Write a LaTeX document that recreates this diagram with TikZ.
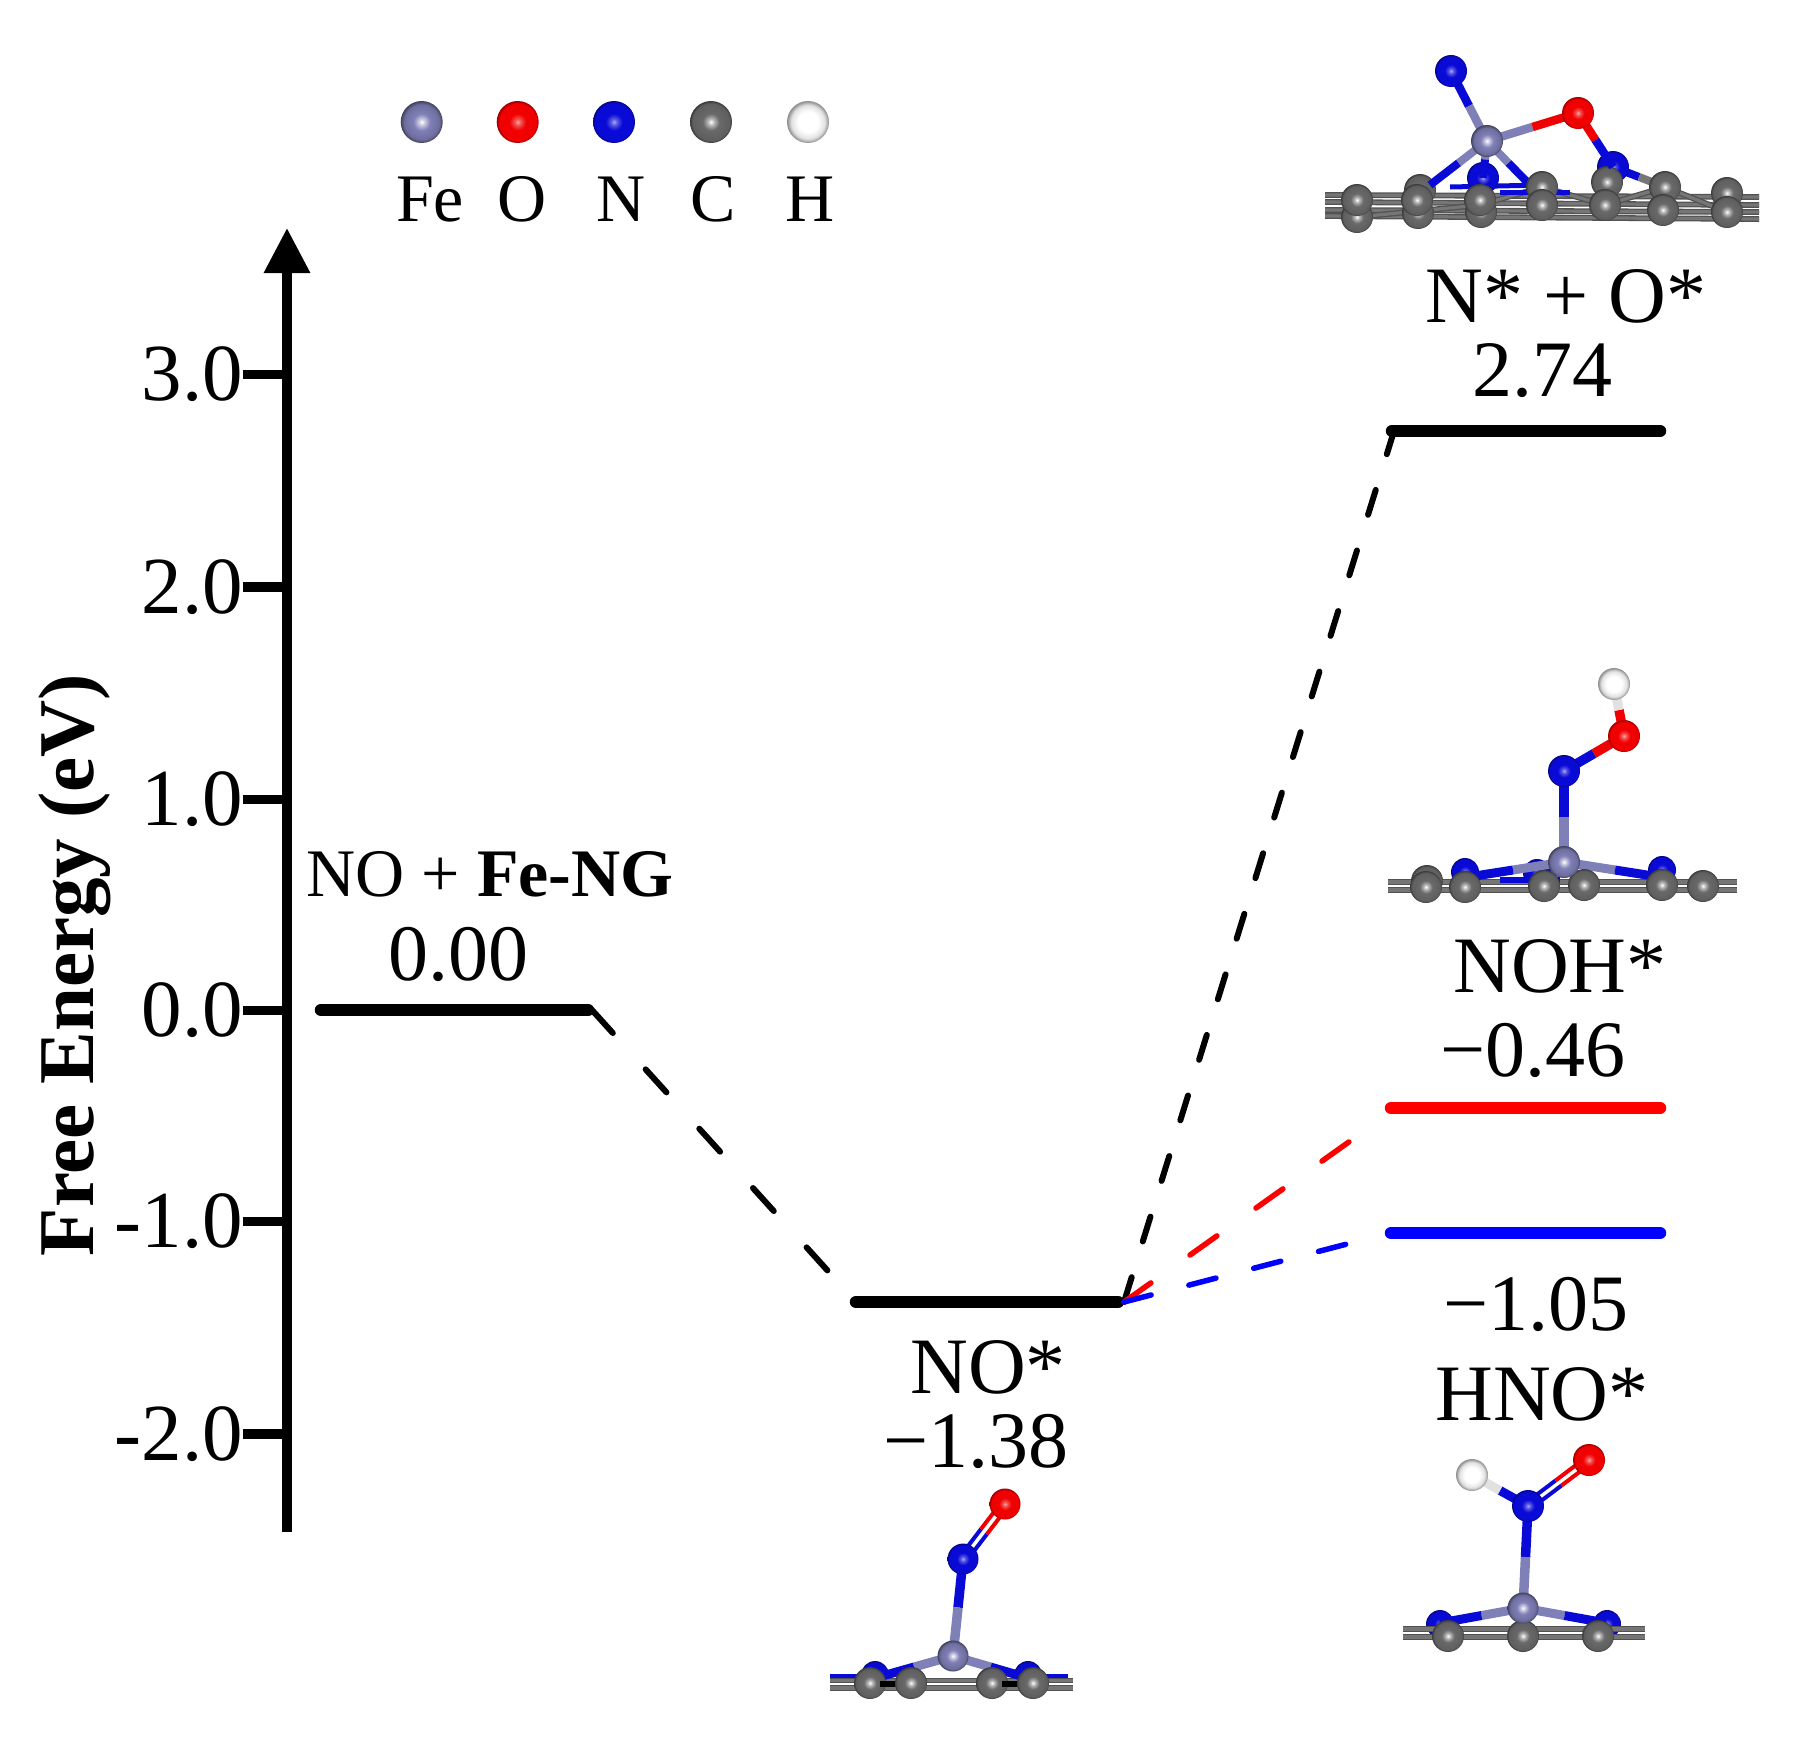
\documentclass[tikz,border=0pt]{standalone}
\usepackage{fontspec}
\setmainfont{Liberation Serif}
\usetikzlibrary{calc,arrows.meta}
\definecolor{feC}{RGB}{128,128,184}
\definecolor{oC}{RGB}{240,0,0}
\definecolor{nC}{RGB}{10,10,215}
\definecolor{cC}{RGB}{105,105,105}
\definecolor{hC}{RGB}{225,225,225}
\definecolor{bgrey}{RGB}{118,118,118}
\pgfdeclareradialshading{sfe}{\pgfpointorigin}{color(0bp)=(white);color(4bp)=(feC!45!white);color(10bp)=(feC);color(21bp)=(feC!85!black);color(25bp)=(feC!50!black);color(50bp)=(feC!50!black)}
\pgfdeclareradialshading{so}{\pgfpointorigin}{color(0bp)=(oC!35!white);color(4bp)=(oC!70!white);color(10bp)=(oC);color(22bp)=(oC);color(25bp)=(oC!65!black);color(50bp)=(oC!65!black)}
\pgfdeclareradialshading{sn}{\pgfpointorigin}{color(0bp)=(nC!35!white);color(4bp)=(nC!70!white);color(10bp)=(nC);color(22bp)=(nC);color(25bp)=(nC!60!black);color(50bp)=(nC!60!black)}
\pgfdeclareradialshading{sc}{\pgfpointorigin}{color(0bp)=(white);color(4bp)=(cC!50!white);color(10bp)=(cC);color(22bp)=(cC!90!black);color(25bp)=(cC!55!black);color(50bp)=(cC!55!black)}
\pgfdeclareradialshading{sh}{\pgfpointorigin}{color(0bp)=(white);color(12bp)=(white);color(20bp)=(hC);color(25bp)=(black!45);color(50bp)=(black!45)}
% \atm{x}{y}{shading}{radius}
\newcommand{\atm}[4]{\path[shading=#3] (#1,#2) circle[radius=#4];}
% \bnd{x1}{y1}{x2}{y2}{colour1}{colour2}{width}
\newcommand{\bnd}[7]{\draw[#5,line width=#7] (#1,#2) -- ($(#1,#2)!.5!(#3,#4)$);\draw[#6,line width=#7] ($(#1,#2)!.5!(#3,#4)$) -- (#3,#4);}
\newcommand{\dbl}[6]{\bnd{#1-3}{#2-2.5}{#3-3}{#4-2.5}{#5}{#6}{4pt}\bnd{#1+3}{#2+2.5}{#3+3}{#4+2.5}{#5}{#6}{4pt}}
\tikzset{
  x=1pt,y=-1pt,
  lbl/.style={font=\fontsize{80}{80}\selectfont,anchor=base,inner sep=0pt},
  tlbl/.style={font=\fontsize{81}{81}\selectfont,inner sep=0pt,anchor=base east},
  leg/.style={font=\fontsize{68}{68}\selectfont,anchor=base,inner sep=0pt},
  level/.style={line width=12.5pt,line cap=round},
  tick/.style={line width=9.5pt},
  linkk/.style={line width=6pt,line cap=round},
  ringbond/.style={draw=black!68,line width=1.3pt,double=bgrey,double distance=3.2pt},
}
\begin{document}
\begin{tikzpicture}
\useasboundingbox (0,0) rectangle (1795,1753);
% axis
\coordinate (axb) at (287,1532);
\coordinate (axt) at (287,228);
\draw[line width=9.5pt,-{Triangle[length=45pt,width=44pt]}] (axb) -- (axt);
\foreach \yy/\tl [count=\i] in {374.5/3.0,587/2.0,799.5/1.0,1010.5/0.0,1221.5/-1.0,1434/-2.0}{
  \coordinate (ta\i) at (243,\yy);
  \coordinate (tb\i) at (287,\yy);
  \draw[tick] (ta\i) -- (tb\i);
  \node[tlbl] (tl\i) at (243,\yy+26) {\tl};
}
\node[rotate=90,anchor=base,inner sep=0pt,font=\fontsize{79}{79}\selectfont\bfseries] (ylab) at (93,965) {Free Energy (eV)};
% levels
\coordinate (a1) at (321,1010); \coordinate (a2) at (588,1010); \coordinate (a3) at (592,1010);
\coordinate (b1) at (856,1302); \coordinate (b2) at (1118,1302); \coordinate (b3) at (1124,1302);
\coordinate (c1) at (1392,431); \coordinate (c2) at (1660,431); \coordinate (c3) at (1394,431);
\coordinate (d1) at (1391,1108); \coordinate (d2) at (1660,1108);
\coordinate (e1) at (1391,1233); \coordinate (e2) at (1660,1233);
\coordinate (d0) at (1353,1139);
\coordinate (e0) at (1347,1244);
\draw[level] (a1) -- (a2);
\draw[level] (b1) -- (b2);
\draw[level] (c1) -- (c2);
\draw[level,red] (d1) -- (d2);
\draw[level,blue] (e1) -- (e2);
\draw[linkk,dash pattern=on 31pt off 49pt] (a3) -- (b1);
\draw[linkk,dash pattern=on 26pt off 37.4pt] (b3) -- (c3);
\draw[linkk,line width=5.5pt,red,dash pattern=on 33pt off 48pt] (b3) -- (d0);
\draw[linkk,line width=5.5pt,blue,dash pattern=on 28pt off 39pt] (b3) -- (e0);
% labels
\node[lbl,font=\fontsize{68}{68}\selectfont] (t1) at (490,896) {NO + \textbf{Fe-NG}};
\node[lbl] (t2) at (458,980) {0.00};
\node[lbl] (t3) at (988,1393) {NO*};
\node[lbl] (t4) at (976,1467) {\char"2212 1.38};
\node[lbl] (t5) at (1566,322) {N* + O*};
\node[lbl] (t6) at (1542,396) {2.74};
\node[lbl] (t7) at (1560,992) {NOH*};
\node[lbl] (t8) at (1533,1076) {\char"2212 0.46};
\node[lbl] (t9) at (1536,1330) {\char"2212 1.05};
\node[lbl] (t10) at (1542,1420) {HNO*};
% legend
\atm{421.7}{122}{sfe}{21}
\atm{517.7}{122}{so}{21}
\atm{614}{122}{sn}{21}
\atm{711}{122}{sc}{21}
\atm{808}{122}{sh}{21}
\node[leg] (lf) at (430,221) {Fe};
\node[leg] (lo) at (522,221) {O};
\node[leg] (ln) at (621,221) {N};
\node[leg] (lc) at (713,221) {C};
\node[leg] (lh) at (810,221) {H};
% N*+O* molecule
\foreach \ya/\yb in {195/197,202/205,210/212,216/219}{\draw[ringbond] (1325,\ya) -- (1759,\yb);}
\draw[ringbond] (1357,217) -- (1480,205) -- (1542,187) -- (1605,205) -- (1665,187) -- (1727,212);
\atm{1357}{217}{sc}{16}
\atm{1420}{190}{sc}{16}
\atm{1418}{213}{sc}{16}
\atm{1481}{212}{sc}{16}
\bnd{1487}{141}{1430}{185}{feC}{nC}{8pt}
\bnd{1487}{141}{1530}{185}{feC}{nC}{8pt}
\draw[nC,line width=5pt] (1450,187) -- (1545,185);
\draw[nC,line width=5pt] (1500,192) -- (1570,192);
\bnd{1613}{167}{1665}{187}{nC}{bgrey}{8pt}
\atm{1483}{178}{sn}{16}
\bnd{1487}{141}{1483}{178}{feC}{nC}{8pt}
\atm{1613}{167}{sn}{16}
\atm{1542}{187}{sc}{16}
\atm{1607}{182}{sc}{16}
\atm{1665}{187}{sc}{16}
\atm{1727}{193}{sc}{16}
\atm{1357}{200}{sc}{16}
\atm{1417}{200}{sc}{16}
\atm{1480}{200}{sc}{16}
\atm{1542}{205}{sc}{16}
\atm{1605}{205}{sc}{16}
\atm{1663}{210}{sc}{16}
\atm{1727}{212}{sc}{16}
\bnd{1451}{71}{1487}{141}{nC}{feC}{8.5pt}
\bnd{1487}{141}{1578}{113}{feC}{oC}{8.5pt}
\bnd{1578}{113}{1613}{167}{oC}{nC}{8.5pt}
\atm{1451}{71}{sn}{16}
\atm{1487}{141}{sfe}{16}
\atm{1578}{113}{so}{16}
% NOH* molecule
\atm{1465}{872}{sn}{14}
\atm{1537}{873}{sn}{14}
\atm{1662}{870}{sn}{14}
\draw[ringbond] (1388,882) -- (1737,882);
\draw[ringbond] (1388,890) -- (1737,890);
\bnd{1564}{862}{1462}{878}{feC}{nC}{9pt}
\bnd{1564}{862}{1666}{878}{feC}{nC}{9pt}
\draw[nC,line width=6pt] (1500,880) -- (1560,880);
\atm{1427}{881}{sc}{16}
\atm{1426}{887}{sc}{16}
\atm{1465}{887}{sc}{16}
\atm{1544}{886}{sc}{16}
\atm{1584}{885}{sc}{16}
\atm{1662}{885}{sc}{16}
\atm{1703}{886}{sc}{16}
\bnd{1564}{771}{1564}{862}{nC}{feC}{9.5pt}
\bnd{1564}{771}{1624}{736}{nC}{oC}{9.5pt}
\bnd{1624}{736}{1614}{684}{oC}{hC}{9.5pt}
\atm{1614}{684}{sh}{16}
\atm{1624}{736}{so}{16}
\atm{1564}{771}{sn}{16}
\atm{1564}{862}{sfe}{16}
% HNO* molecule
\atm{1440}{1624}{sn}{14}
\atm{1607}{1624}{sn}{14}
\draw[ringbond] (1403,1629) -- (1645,1629);
\draw[ringbond] (1403,1637) -- (1645,1637);
\bnd{1523}{1608}{1440}{1623}{feC}{nC}{9pt}
\bnd{1523}{1608}{1606}{1623}{feC}{nC}{9pt}
\atm{1448}{1636}{sc}{16}
\atm{1523}{1636}{sc}{16}
\atm{1598}{1636}{sc}{16}
\bnd{1528}{1506}{1523}{1608}{nC}{feC}{9.5pt}
\bnd{1528}{1506}{1472}{1475}{nC}{hC}{9pt}
\dbl{1528}{1506}{1589}{1460}{nC}{oC}
\atm{1589}{1460}{so}{16}
\atm{1472}{1475}{sh}{16}
\atm{1528}{1506}{sn}{16}
\atm{1523}{1608}{sfe}{15.5}
% NO* molecule
\atm{875}{1675}{sn}{14}
\atm{1028}{1675}{sn}{14}
\draw[nC,line width=5pt] (830,1676) -- (870,1676);
\draw[nC,line width=5pt] (1035,1676) -- (1068,1676);
\draw[ringbond] (830,1680.5) -- (1073,1680.5);
\draw[ringbond] (830,1688) -- (1073,1688);
\bnd{953}{1656}{875}{1678}{feC}{nC}{9pt}
\bnd{953}{1656}{1028}{1678}{feC}{nC}{9pt}
\atm{870}{1683}{sc}{16}
\atm{992}{1683}{sc}{16}
\draw[black,line width=6pt] (880,1684) -- (900,1684);
\draw[black,line width=6pt] (1002,1684) -- (1022,1684);
\atm{911}{1683}{sc}{16}
\atm{1033}{1683}{sc}{16}
\bnd{963}{1559}{953}{1656}{nC}{feC}{9.5pt}
\dbl{963}{1559}{1005}{1504}{nC}{oC}
\atm{1005}{1504}{so}{15.5}
\atm{963}{1559}{sn}{15.5}
\atm{953}{1656}{sfe}{15.5}
\end{tikzpicture}
\end{document}
